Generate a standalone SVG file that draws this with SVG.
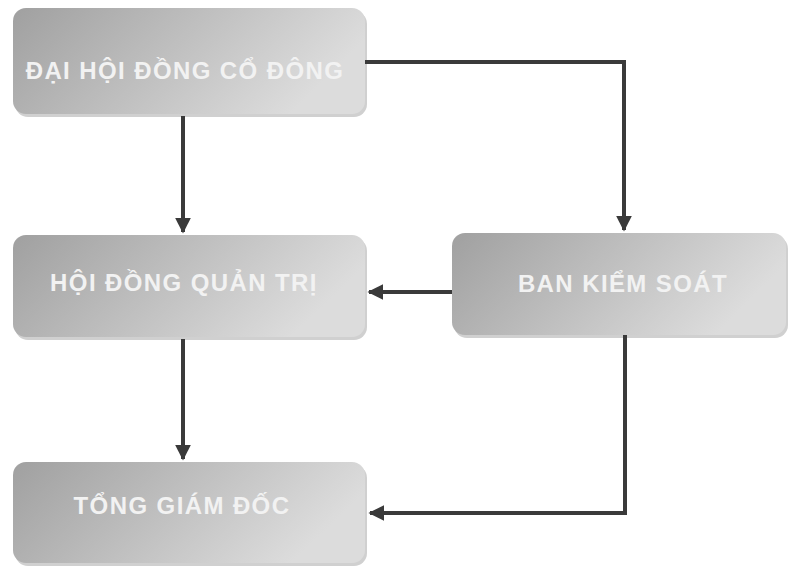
<svg xmlns="http://www.w3.org/2000/svg" width="790" height="567" viewBox="0 0 790 567">
<defs>
<linearGradient id="g" x1="0" y1="0" x2="1" y2="0.3">
<stop offset="0" stop-color="#a0a0a0"/>
<stop offset="0.6" stop-color="#c4c4c4"/>
<stop offset="1" stop-color="#dcdcdc"/>
</linearGradient>
<marker id="ah" viewBox="0 0 10 10" refX="9" refY="5" markerWidth="4" markerHeight="4" orient="auto" markerUnits="strokeWidth">
<path d="M0,0 L10,5 L0,10 z" fill="#3a3a3a"/>
</marker>
</defs>
<style>
.box{fill:url(#g);}
.sh{fill:#d0d0d0;}
.lbl{font-family:"Liberation Sans",Arial,sans-serif;font-weight:bold;font-size:24px;fill:#f2f2f2;text-anchor:middle;letter-spacing:1.4px;}
.c{fill:none;stroke:#3a3a3a;stroke-width:4;}
</style>
<rect width="790" height="567" fill="#ffffff"/>
<g id="dhdcd">
<rect class="sh" x="15" y="11" width="352" height="106" rx="13"/>
<rect class="box" x="13" y="8" width="352" height="106" rx="13"/>
<text class="lbl" x="185" y="79">ĐẠI HỘI ĐỒNG CỔ ĐÔNG</text>
</g>
<g id="hdqt">
<rect class="sh" x="15" y="238" width="352" height="102" rx="13"/>
<rect class="box" x="13" y="235" width="352" height="102" rx="13"/>
<text class="lbl" x="184" y="291">HỘI ĐỒNG QUẢN TRỊ</text>
</g>
<g id="bks">
<rect class="sh" x="454" y="236" width="334" height="102" rx="13"/>
<rect class="box" x="452" y="233" width="334" height="102" rx="13"/>
<text class="lbl" x="623" y="292">BAN KIỂM SOÁT</text>
</g>
<g id="tgd">
<rect class="sh" x="15" y="465" width="352" height="101" rx="13"/>
<rect class="box" x="13" y="462" width="352" height="101" rx="13"/>
<text class="lbl" x="182" y="514">TỔNG GIÁM ĐỐC</text>
</g>
<g id="connectors">
<path class="c" d="M183,116 L183,232" marker-end="url(#ah)"/>
<path class="c" d="M365,62 L624,62 L624,230" marker-end="url(#ah)"/>
<path class="c" d="M452,292 L369,292" marker-end="url(#ah)"/>
<path class="c" d="M183,339 L183,459" marker-end="url(#ah)"/>
<path class="c" d="M625,335 L625,513 L370,513" marker-end="url(#ah)"/>
</g>
</svg>
